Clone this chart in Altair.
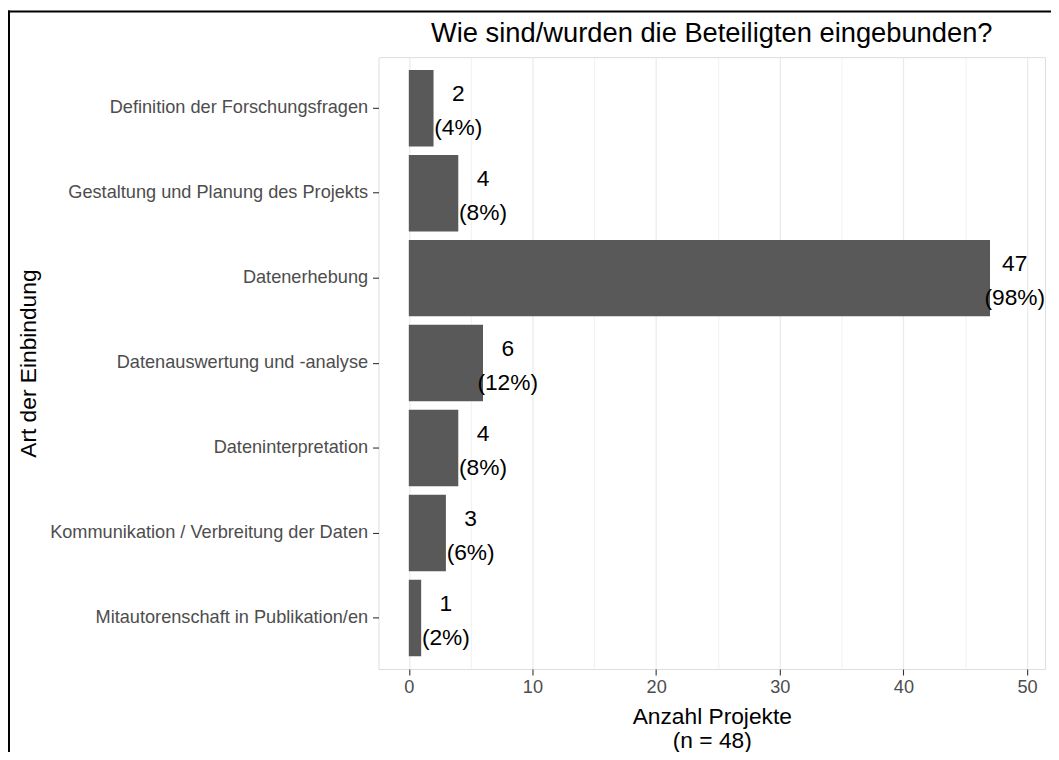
import altair as alt
import pandas as pd

categories = [
    "Definition der Forschungsfragen",
    "Gestaltung und Planung des Projekts",
    "Datenerhebung",
    "Datenauswertung und -analyse",
    "Dateninterpretation",
    "Kommunikation / Verbreitung der Daten",
    "Mitautorenschaft in Publikation/en",
]
counts = [2, 4, 47, 6, 4, 3, 1]
percents = [4, 8, 98, 12, 8, 6, 2]

title_text = "Wie sind/wurden die Beteiligten eingebunden?"
x_title = ["Anzahl Projekte", "(n = 48)"]
y_title = "Art der Einbindung"
x_ticks = list(range(0, 51, 5))

df = pd.DataFrame({"cat": categories, "count": counts, "pct": percents})

FONT = "Liberation Sans"

x_scale = alt.Scale(domain=[-2.45, 51.45], nice=False, zero=False)
y_scale = alt.Scale(domain=categories, paddingInner=0.1, paddingOuter=0.15)

x_axis = alt.Axis(
    values=x_ticks,
    labelExpr="datum.value % 10 === 0 ? datum.label : ''",
    grid=True,
    gridColor="#EBEBEB",
    gridWidth={"condition": {"test": "datum.value % 10 === 0", "value": 1.3}, "value": 0.7},
    tickColor={"condition": {"test": "datum.value % 10 === 0", "value": "#333333"}, "value": "transparent"},
    tickSize=6,
    tickWidth=1.1,
    domain=False,
    labelFont=FONT,
    labelFontSize=18.3,
    labelColor="#4D4D4D",
    labelPadding=4,
    labelFlush=False,
    title=x_title,
    titleFont=FONT,
    titleFontSize=22.9,
    titleFontWeight="normal",
    titleColor="#000000",
    titleLineHeight=24,
    titlePadding=10,
)

y_axis = alt.Axis(
    grid=False,
    domain=False,
    tickColor="#333333",
    tickSize=6,
    tickWidth=1.1,
    labelFont=FONT,
    labelFontSize=18.3,
    labelColor="#4D4D4D",
    labelPadding=5,
    labelLimit=500,
    title=y_title,
    titleFont=FONT,
    titleFontSize=22.9,
    titleFontWeight="normal",
    titleColor="#000000",
    titleX=-345,
    titleY=308,
    titleBaseline="alphabetic",
    titleAlign="center",
)

base = alt.Chart(df)

bars = base.mark_bar(color="#595959").encode(
    x=alt.X("count:Q", scale=x_scale, axis=x_axis),
    y=alt.Y("cat:N", scale=y_scale, sort=categories, axis=y_axis),
)

labels = base.transform_calculate(
    pos="datum.count + 2",
    label="datum.count + '\\n(' + datum.pct + '%)'",
).mark_text(
    font=FONT,
    fontSize=22.9,
    color="#000000",
    align="center",
    baseline="middle",
    lineBreak="\n",
    lineHeight=34,
    dy=-14,
).encode(
    x=alt.X("pos:Q", scale=x_scale),
    y=alt.Y("cat:N", scale=y_scale, sort=categories),
    text="label:N",
)

frame_df = pd.DataFrame({"k": [0]})
frame_left = alt.Chart(frame_df).mark_rule(color="#000000", strokeWidth=2).encode(
    x=alt.value(-372), y=alt.value(-47), y2=alt.value(700)
)
frame_top = alt.Chart(frame_df).mark_rule(color="#000000", strokeWidth=2).encode(
    x=alt.value(-373), x2=alt.value(690), y=alt.value(-46)
)

chart = alt.layer(bars, labels, frame_left, frame_top).properties(
    width=671,
    height=616,
    autosize=alt.AutoSizeParams(type="none"),
    padding={"left": 373, "top": 47, "right": 6, "bottom": 81},
    title=alt.Title(
        title_text,
        font=FONT,
        fontSize=27.5,
        fontWeight="normal",
        color="#000000",
        anchor="middle",
        frame="group",
        baseline="alphabetic",
        offset=16,
        dy=76,
    ),
).configure_view(
    stroke="#333333", strokeWidth=1.2
).configure(background="white")

chart.save("out.html", embed_options={"renderer": "svg", "actions": False})
